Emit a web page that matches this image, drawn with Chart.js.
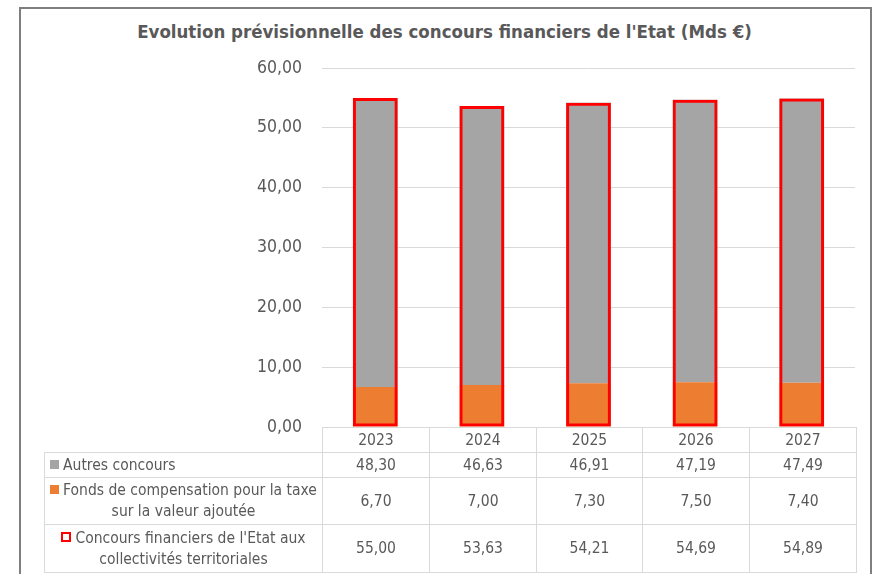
<!DOCTYPE html>
<html>
<head>
<meta charset="utf-8">
<script src="https://cdn.jsdelivr.net/npm/chart.js@4"></script>
<style>
  body { margin: 0; background: #fff; }
  #wrap { position: relative; width: 874px; height: 574px; overflow: hidden; font-family: "Liberation Sans Narrow", "DejaVu Sans Condensed", sans-serif; color: #595959; }
  #frame { position: absolute; left: 19px; top: 7px; width: 849px; height: 600px; border: 2px solid #7f7f7f; }
  #title { position: absolute; left: 19px; width: 851px; top: 21px; text-align: center; font-size: 18.5px; font-weight: bold; color: #595959; }
  #chart { position: absolute; left: 0; top: 0; }
  #tbl { position: absolute; left: 44px; top: 427px; border-collapse: collapse; table-layout: fixed; width: 812px; }
  #tbl td { border: 1px solid #d9d9d9; padding: 0; text-align: center; font-size: 15.5px; color: #595959; line-height: 21px; white-space: nowrap; overflow: hidden; }
  #tbl td.blank { border-left: none; border-top: none; }
  #tbl td.lab.single { text-align: left; padding-left: 5px; }
  .key { display: inline-block; width: 9px; height: 9px; margin-right: 4px; vertical-align: 1px; }
  .key.box { width: 6px; height: 6px; border: 2.5px solid #ff0000; background: #fff; }
</style>
</head>
<body>
<div id="wrap">
  <div id="frame"></div>
  <div id="title">Evolution prévisionnelle des concours financiers de l'Etat (Mds €)</div>
  <canvas id="chart" width="874" height="574"></canvas>
  <table id="tbl"></table>
</div>
<script>
const years = ["2023", "2024", "2025", "2026", "2027"];
const autresConcours = [48.30, 46.63, 46.91, 47.19, 47.49];
const fctva = [6.70, 7.00, 7.30, 7.50, 7.40];
const totalConcours = [55.00, 53.63, 54.21, 54.69, 54.89];
const yTicks = [0, 10, 20, 30, 40, 50, 60];

const labelAutres = "Autres concours";
const labelFctva = ["Fonds de compensation pour la taxe", "sur la valeur ajoutée"];
const labelTotal = ["Concours financiers de l'Etat aux", "collectivités territoriales"];

const fmt = (v) => v.toFixed(2).replace(".", ",");
const fontFamily = '"Liberation Sans Narrow", "DejaVu Sans Condensed", sans-serif';

new Chart(document.getElementById("chart"), {
  type: "bar",
  data: {
    labels: years,
    datasets: [
      {
        label: labelTotal.join(" "),
        data: totalConcours,
        stack: "total",
        grouped: false,
        backgroundColor: "rgba(0,0,0,0)",
        borderColor: "#ff0000",
        borderWidth: 3,
        borderSkipped: false,
        categoryPercentage: 1,
        barPercentage: 0.42,
      },
      {
        label: labelFctva.join(" "),
        data: fctva,
        stack: "parts",
        grouped: false,
        backgroundColor: "#ed7d31",
        categoryPercentage: 1,
        barPercentage: 0.42,
      },
      {
        label: labelAutres,
        data: autresConcours,
        stack: "parts",
        grouped: false,
        backgroundColor: "#a5a5a5",
        categoryPercentage: 1,
        barPercentage: 0.42,
      },
    ],
  },
  options: {
    responsive: false,
    animation: false,
    layout: { padding: { left: 20, right: 19, top: 68, bottom: 147 } },
    plugins: { legend: { display: false }, tooltip: { enabled: false } },
    scales: {
      x: { stacked: true, display: false },
      y: {
        stacked: true,
        min: 0,
        max: 60,
        afterBuildTicks: (s) => { s.ticks = yTicks.map((v) => ({ value: v })); },
        afterFit: (s) => { s.width = 302; },
        border: { display: false },
        grid: { color: "#d9d9d9", lineWidth: 1, drawTicks: false },
        ticks: {
          padding: 20,
          color: "#595959",
          font: { family: fontFamily, size: 17.5 },
          callback: (v) => fmt(v),
        },
      },
    },
  },
});

// data table under the chart
const tbl = document.getElementById("tbl");
const colWidths = [278, 107, 107, 106, 107, 107];
const cg = document.createElement("colgroup");
colWidths.forEach((w) => { const c = document.createElement("col"); c.style.width = w + "px"; cg.appendChild(c); });
tbl.appendChild(cg);

const addRow = (height, firstHtml, firstClass, values) => {
  const tr = document.createElement("tr");
  tr.style.height = height + "px";
  const td0 = document.createElement("td");
  td0.className = firstClass;
  td0.innerHTML = firstHtml;
  tr.appendChild(td0);
  values.forEach((v) => {
    const td = document.createElement("td");
    td.textContent = v;
    tr.appendChild(td);
  });
  tbl.appendChild(tr);
};

addRow(25, "", "blank", years);
addRow(25, '<span class="key" style="background:#a5a5a5"></span>' + labelAutres, "lab single", autresConcours.map(fmt));
addRow(47, '<span class="key" style="background:#ed7d31"></span>' + labelFctva.join("<br>"), "lab", fctva.map(fmt));
addRow(48, '<span class="key box"></span>' + labelTotal.join("<br>"), "lab", totalConcours.map(fmt));
</script>
</body>
</html>
